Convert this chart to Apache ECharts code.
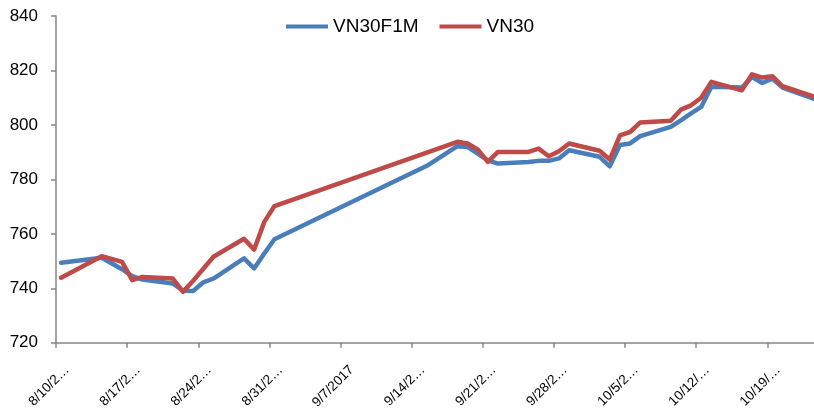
<!DOCTYPE html>
<html><head><meta charset="utf-8">
<script src="https://cdn.jsdelivr.net/npm/echarts@6/dist/echarts.min.js"></script>
<style>html,body{margin:0;padding:0;background:#fff}#c{width:814px;height:412px}</style>
</head><body><div id="c"></div>
<script>
const dates = ['2017-08-10','2017-08-14','2017-08-16','2017-08-17','2017-08-18','2017-08-21','2017-08-22','2017-08-23','2017-08-24','2017-08-25','2017-08-28','2017-08-29','2017-08-30','2017-08-31','2017-09-15','2017-09-18','2017-09-19','2017-09-20','2017-09-21','2017-09-22','2017-09-25','2017-09-26','2017-09-27','2017-09-28','2017-09-29','2017-10-02','2017-10-03','2017-10-04','2017-10-05','2017-10-06','2017-10-09','2017-10-10','2017-10-11','2017-10-12','2017-10-13','2017-10-16','2017-10-17','2017-10-18','2017-10-19','2017-10-20','2017-10-24'];
const vn30f1m = [749.4,751.2,747.0,744.5,743.2,741.8,739.1,739.0,742.2,743.6,751.0,747.3,752.8,758.0,785.0,792.2,791.9,789.5,787.0,785.8,786.4,786.8,786.8,787.7,790.7,788.3,784.8,792.6,793.2,795.9,799.3,801.7,804.2,806.6,814.0,813.7,817.6,815.4,817.0,813.7,808.4];
const vn30 = [743.9,751.8,749.7,743.0,744.2,743.6,738.7,742.8,747.2,751.6,758.2,754.2,764.4,770.2,null,793.8,793.2,791.0,786.4,790.1,790.1,791.3,788.5,790.3,793.2,790.5,787.3,796.2,797.4,800.9,801.5,805.6,807.2,810.0,815.8,812.7,818.6,817.4,817.9,814.2,809.3];
const tickDates = ['2017-08-10','2017-08-17','2017-08-24','2017-08-31','2017-09-07','2017-09-14','2017-09-21','2017-09-28','2017-10-05','2017-10-12','2017-10-19'];
const tickLabels = ['8/10/2\u2026','8/17/2\u2026','8/24/2\u2026','8/31/2\u2026','9/7/2017','9/14/2\u2026','9/21/2\u2026','9/28/2\u2026','10/5/2\u2026','10/12/\u2026','10/19/\u2026'];
const yTicks = [720, 740, 760, 780, 800, 820, 840];

const startDate = '2017-08-10';
const xMaxDays = 74.6;
const labelShift = 1.1;
const DAY = 86400000;
function dayOf(s){ return (Date.parse(s) - Date.parse(startDate)) / DAY; }
const tickDays = tickDates.map(dayOf);
const labelMap = {};
tickDays.forEach((d,i)=>{ labelMap[d] = tickLabels[i]; });
function toData(vals){ return dates.map((d,i)=>[dayOf(d)+0.5, vals[i]]); }

const font = 'Liberation Sans, Arial, sans-serif';
const axisColor = '#868686';
const chart = echarts.init(document.getElementById('c'), null, {renderer:'canvas'});
chart.setOption({
  animation: false,
  backgroundColor: '#fff',
  grid: {left: 56, right: 0, top: 16, bottom: 69, containLabel: false},
  legend: {
    data: ['VN30F1M','VN30'], left: 281, top: 12,
    icon: 'rect', itemWidth: 42, itemHeight: 4, itemGap: 21,
    textStyle: {fontSize: 19, color: '#000', fontFamily: font}
  },
  xAxis: [{
    type: 'value', min: 0, max: xMaxDays, position: 'bottom',
    axisLine: {show: true, lineStyle: {color: axisColor, width: 1.5}},
    axisTick: {show: true, length: 5, customValues: tickDays, lineStyle: {color: axisColor, width: 1.5}},
    axisLabel: {show: false},
    splitLine: {show: false}
  },{
    type: 'value', min: -labelShift, max: xMaxDays - labelShift, position: 'bottom',
    axisLine: {show: false}, axisTick: {show: false}, splitLine: {show: false},
    axisLabel: {show: true, customValues: tickDays, rotate: 45, margin: 25,
      fontSize: 13.5, color: '#000', fontFamily: font,
      formatter: v => labelMap[v] || ''}
  }],
  yAxis: {
    type: 'value', min: yTicks[0], max: yTicks[yTicks.length-1], interval: 20,
    axisLine: {show: true, lineStyle: {color: axisColor, width: 1.5}},
    axisTick: {show: true, length: 5, lineStyle: {color: axisColor, width: 1.5}},
    axisLabel: {fontSize: 17, color: '#000', fontFamily: font, margin: 18},
    splitLine: {show: false}
  },
  series: [{
    name: 'VN30F1M', type: 'line', xAxisIndex: 0, data: toData(vn30f1m),
    symbol: 'none', connectNulls: true,
    lineStyle: {color: '#4A7EBB', width: 4.5, join: 'round', cap: 'round'},
    itemStyle: {color: '#4A7EBB'}
  },{
    name: 'VN30', type: 'line', xAxisIndex: 0, data: toData(vn30),
    symbol: 'none', connectNulls: true,
    lineStyle: {color: '#BE4B48', width: 4.5, join: 'round', cap: 'round'},
    itemStyle: {color: '#BE4B48'}
  }]
});
</script></body></html>
